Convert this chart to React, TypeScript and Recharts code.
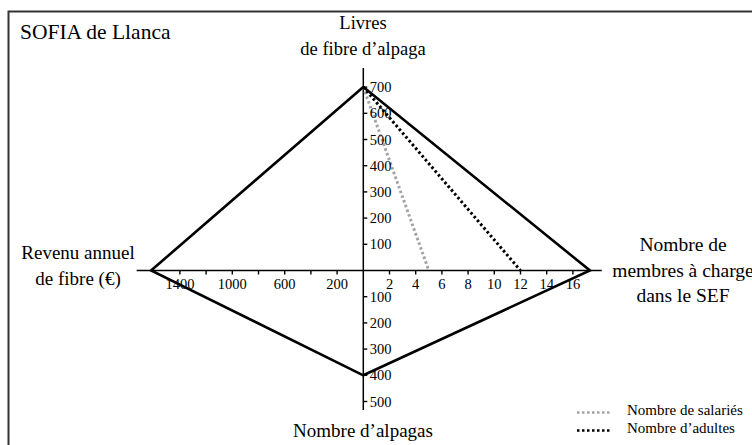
import React from 'react';
import { ComposedChart, XAxis, YAxis, Line, Scatter, ReferenceLine } from 'recharts';

// axis tick values
const livresTicks = [100, 200, 300, 400, 500, 600, 700];
const alpagasTicks = [100, 200, 300, 400, 500];
const membresTicks = [2, 4, 6, 8, 10, 12, 14, 16];
const revenuTicks = [200, 400, 600, 800, 1000, 1200, 1400];
const revenuLabels = [1400, 1000, 600, 200];

// SOFIA profile (Llanca)
const sofiaLivres = 700;
const sofiaMembres = 17.3;
const sofiaAlpagas = 400;
const sofiaRevenu = 1620;

// dotted lines on the "membres" side
const nbSalaries = 5;
const nbAdultes = 12;

// how far each half-axis runs, in its own units
const axisLivresMax = 773;
const axisAlpagasMax = 532;
const axisMembresMax = 18.2;
const axisRevenuMax = 1730;

const W = 752;
const H = 445;
const ORIGIN_X = 363.3;
const ORIGIN_Y = 270.5;
const PX = 26.2; // px per common unit

// every quadrant has its own scale, map them to a common unit
const up = (v: number) => v / 100;
const down = (v: number) => -v / 100;
const right = (v: number) => v / 2;
const left = (v: number) => -v / 200;

const xDomain = [-ORIGIN_X / PX, (W - ORIGIN_X) / PX];
const yDomain = [-(H - ORIGIN_Y) / PX, ORIGIN_Y / PX];

const diamond = [
    { x: 0, y: up(sofiaLivres) },
    { x: right(sofiaMembres), y: 0 },
    { x: 0, y: down(sofiaAlpagas) },
    { x: left(sofiaRevenu), y: 0 },
    { x: 0, y: up(sofiaLivres) },
];
const salariesLine = [{ x: 0, y: up(sofiaLivres) }, { x: right(nbSalaries), y: 0 }];
const adultesLine = [{ x: 0, y: up(sofiaLivres) }, { x: right(nbAdultes), y: 0 }];

const tickData = [
    ...livresTicks.map(v => ({ x: 0, y: up(v), label: String(v), side: 'v' })),
    ...alpagasTicks.map(v => ({ x: 0, y: down(v), label: String(v), side: 'v' })),
    ...membresTicks.map(v => ({ x: right(v), y: 0, label: String(v), side: 'h' })),
    ...revenuTicks.map(v => ({ x: left(v), y: 0, label: revenuLabels.includes(v) ? String(v) : '', side: 'h' })),
];

const serif = "'Liberation Serif', 'Times New Roman', Times, 'DejaVu Serif', serif";

const TickMark = (props: any) => {
    const { cx, cy, payload } = props;
    if (payload.side === 'v') {
        return (
            <g>
                <line x1={cx} y1={cy} x2={cx + 4} y2={cy} stroke="#000" strokeWidth={1.4} />
                <text x={cx + 6.5} y={cy} dy="0.35em" fontSize={14.5} fill="#000" style={{ fontFamily: serif }}>{payload.label}</text>
            </g>
        );
    }
    return (
        <g>
            <line x1={cx} y1={cy} x2={cx} y2={cy + 4} stroke="#000" strokeWidth={1.4} />
            <text x={cx} y={cy + 18.5} textAnchor="middle" fontSize={14.5} fill="#000" style={{ fontFamily: serif }}>{payload.label}</text>
        </g>
    );
};

export default function App() {
    return (
        <div style={{ position: 'relative', width: W, height: H, overflow: 'hidden', background: '#fff', fontFamily: serif }}>
            <style>{'body{margin:0}'}</style>
            <ComposedChart width={W} height={H} margin={{ top: 0, right: 0, bottom: 0, left: 0 }} style={{ position: 'absolute', left: 0, top: 0 }}>
                <XAxis type="number" dataKey="x" domain={xDomain} allowDataOverflow hide />
                <YAxis type="number" dataKey="y" domain={yDomain} allowDataOverflow hide />
                <ReferenceLine segment={[{ x: left(axisRevenuMax), y: 0 }, { x: right(axisMembresMax), y: 0 }]} stroke="#000" strokeWidth={1.5} ifOverflow="visible" />
                <ReferenceLine segment={[{ x: 0, y: down(axisAlpagasMax) }, { x: 0, y: up(axisLivresMax) }]} stroke="#000" strokeWidth={1.5} ifOverflow="visible" />
                <Line data={salariesLine} dataKey="y" type="linear" stroke="#a3a3a3" strokeWidth={3} strokeDasharray="2.5 2.5" dot={false} activeDot={false} isAnimationActive={false} />
                <Line data={adultesLine} dataKey="y" type="linear" stroke="#000" strokeWidth={3} strokeDasharray="2.5 2.5" dot={false} activeDot={false} isAnimationActive={false} />
                <Line data={diamond} dataKey="y" type="linear" stroke="#000" strokeWidth={2.6} strokeLinejoin="miter" dot={false} activeDot={false} isAnimationActive={false} />
                <Scatter data={tickData} dataKey="y" shape={TickMark} isAnimationActive={false} />
            </ComposedChart>
            <svg width={W} height={H} style={{ position: 'absolute', left: 0, top: 0, pointerEvents: 'none', fontFamily: serif }} fill="#000">
                <path d={`M 8.5 ${H} L 8.5 11.5 L ${W} 11.5`} fill="none" stroke="#333" strokeWidth={2} />
                <text x={20} y={39} fontSize={21.5}>SOFIA de Llanca</text>
                <text x={363} y={29} fontSize={18.5} textAnchor="middle">Livres</text>
                <text x={363} y={55} fontSize={18.5} textAnchor="middle">de fibre d’alpaga</text>
                <text x={78} y={258.5} fontSize={19} textAnchor="middle">Revenu annuel</text>
                <text x={78} y={285} fontSize={19} textAnchor="middle">de fibre (€)</text>
                <text x={683} y={251} fontSize={19.5} textAnchor="middle">Nombre de</text>
                <text x={683} y={276.5} fontSize={19.5} textAnchor="middle">membres à charge</text>
                <text x={683} y={302} fontSize={19.5} textAnchor="middle">dans le SEF</text>
                <text x={363} y={437} fontSize={19} textAnchor="middle">Nombre d’alpagas</text>
                <line x1={577} y1={412.5} x2={612} y2={412.5} stroke="#a3a3a3" strokeWidth={2.5} strokeDasharray="2.5 2.5" />
                <line x1={577} y1={430.5} x2={612} y2={430.5} stroke="#000" strokeWidth={2.5} strokeDasharray="2.5 2.5" />
                <text x={627} y={415} fontSize={15}>Nombre de salariés</text>
                <text x={627} y={432.7} fontSize={15}>Nombre d’adultes</text>
            </svg>
        </div>
    );
}
